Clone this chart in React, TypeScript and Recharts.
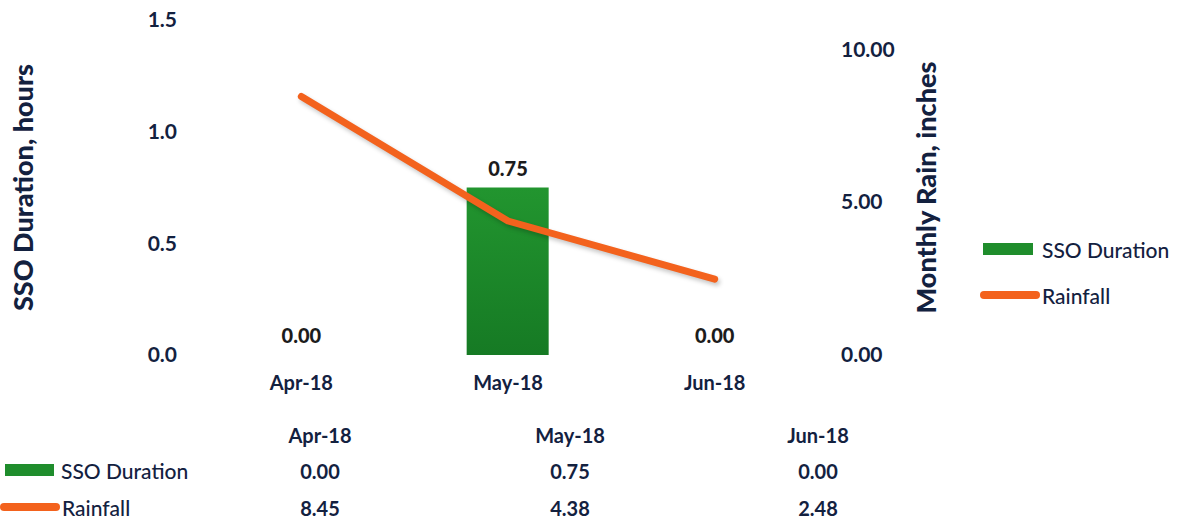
import React from 'react';
import { ComposedChart, Bar, Line, XAxis, YAxis, LabelList } from 'recharts';

const months = ['Apr-18', 'May-18', 'Jun-18'];
const ssoDuration = [0, 0.75, 0];
const rainfall = [8.45, 4.38, 2.48];
const leftTicks = [0, 0.5, 1.0, 1.5];
const rightTicks = [0, 5, 10];

const seriesNames = ['SSO Duration', 'Rainfall'];

const data = months.map((m, i) => ({ month: m, sso: ssoDuration[i], rain: rainfall[i] }));

const NAVY = '#13213f';
const GREEN = '#1f8d2c';
const ORANGE = '#f3621d';
const FONT = 'Lato, "Open Sans", sans-serif';

const tableCols = [320, 570, 818];

function AxisTitle(props: any, text: string, cx: number) {
  const vb = props.viewBox || {};
  const cy = vb.y + vb.height / 2;
  return (
    <text
      x={cx}
      y={cy}
      transform={`rotate(-90, ${cx}, ${cy})`}
      textAnchor="middle"
      dominantBaseline="central"
      fill={NAVY}
      fontSize={27}
      fontWeight={900}
      fontFamily={FONT}
    >
      {text}
    </text>
  );
}

export default function App() {
  return (
    <div style={{ position: 'absolute', left: 0, top: 0, width: 1178, height: 525, background: '#fff', fontFamily: FONT }}>
      <ComposedChart width={1178} height={420} data={data} margin={{ top: 20, right: 0, bottom: 0, left: 0 }} barSize={82}>
        <defs>
          <linearGradient id="barGrad" x1="0" y1="0" x2="0" y2="1">
            <stop offset="0%" stopColor="#22952f" />
            <stop offset="100%" stopColor="#167a24" />
          </linearGradient>
        </defs>
        <XAxis
          dataKey="month"
          height={65}
          axisLine={false}
          tickLine={false}
          tickSize={0}
          tickMargin={21}
          tick={{ fill: NAVY, fontSize: 20, fontWeight: 700, fontFamily: FONT }}
        />
        <YAxis
          yAxisId="left"
          width={198}
          domain={[0, 1.5]}
          ticks={leftTicks}
          tickFormatter={(v: number) => v.toFixed(1)}
          axisLine={false}
          tickLine={false}
          tickSize={0}
          tickMargin={21}
          tick={{ fill: NAVY, fontSize: 21, fontWeight: 700, fontFamily: FONT }}
          label={(p: any) => AxisTitle(p, 'SSO Duration, hours', 22)}
        />
        <YAxis
          yAxisId="right"
          orientation="right"
          width={360}
          domain={[0, 10.95]}
          ticks={rightTicks}
          tickFormatter={(v: number) => v.toFixed(2)}
          axisLine={false}
          tickLine={false}
          tickSize={0}
          tickMargin={23}
          tick={{ fill: NAVY, fontSize: 21, fontWeight: 700, fontFamily: FONT }}
          label={(p: any) => AxisTitle(p, 'Monthly Rain, inches', 925)}
        />
        <Bar yAxisId="left" dataKey="sso" name={seriesNames[0]} fill="url(#barGrad)" isAnimationActive={false} />
        <Line
          yAxisId="left"
          dataKey="sso"
          stroke="none"
          dot={false}
          activeDot={false}
          legendType="none"
          isAnimationActive={false}
        >
          <LabelList
            dataKey="sso"
            position="top"
            offset={12}
            formatter={(v: any) => Number(v).toFixed(2)}
            style={{ fill: '#1c1c1c', fontSize: 20, fontWeight: 900, fontFamily: FONT }}
          />
        </Line>
        <Line
          yAxisId="right"
          dataKey="rain"
          name={seriesNames[1]}
          type="linear"
          stroke={ORANGE}
          strokeWidth={7}
          strokeLinecap="round"
          strokeLinejoin="round"
          dot={false}
          activeDot={false}
          isAnimationActive={false}
          style={{ filter: 'drop-shadow(2px 3px 2px rgba(0,0,0,0.22))' }}
        />
      </ComposedChart>

      {/* Legend */}
      <div style={{ position: 'absolute', left: 983, top: 238, display: 'flex', alignItems: 'center', height: 22 }}>
        <div style={{ width: 50, height: 12, background: GREEN, marginRight: 9 }} />
        <span style={{ color: NAVY, fontSize: 21, fontWeight: 500 }}>{seriesNames[0]}</span>
      </div>
      <div style={{ position: 'absolute', left: 980, top: 284, display: 'flex', alignItems: 'center', height: 22 }}>
        <div style={{ width: 60, height: 8, background: ORANGE, borderRadius: 4, marginRight: 2 }} />
        <span style={{ color: NAVY, fontSize: 21, fontWeight: 500 }}>{seriesNames[1]}</span>
      </div>

      {/* Data table */}
      {months.map((m, i) => (
        <div key={'h' + m} style={{ position: 'absolute', left: tableCols[i] - 60, width: 120, top: 423, textAlign: 'center', color: NAVY, fontSize: 20, fontWeight: 700 }}>
          {m}
        </div>
      ))}
      <div style={{ position: 'absolute', left: 5, top: 459, display: 'flex', alignItems: 'center', height: 22 }}>
        <div style={{ width: 49, height: 12, background: GREEN, marginRight: 7 }} />
        <span style={{ color: NAVY, fontSize: 21, fontWeight: 500 }}>{seriesNames[0]}</span>
      </div>
      <div style={{ position: 'absolute', left: 0, top: 496, display: 'flex', alignItems: 'center', height: 22 }}>
        <div style={{ width: 60, height: 8, background: ORANGE, borderRadius: 4, marginRight: 2 }} />
        <span style={{ color: NAVY, fontSize: 21, fontWeight: 500 }}>{seriesNames[1]}</span>
      </div>
      {ssoDuration.map((v, i) => (
        <div key={'s' + i} style={{ position: 'absolute', left: tableCols[i] - 60, width: 120, top: 459, textAlign: 'center', color: NAVY, fontSize: 20, fontWeight: 700 }}>
          {v.toFixed(2)}
        </div>
      ))}
      {rainfall.map((v, i) => (
        <div key={'r' + i} style={{ position: 'absolute', left: tableCols[i] - 60, width: 120, top: 496, textAlign: 'center', color: NAVY, fontSize: 20, fontWeight: 700 }}>
          {v.toFixed(2)}
        </div>
      ))}
    </div>
  );
}
